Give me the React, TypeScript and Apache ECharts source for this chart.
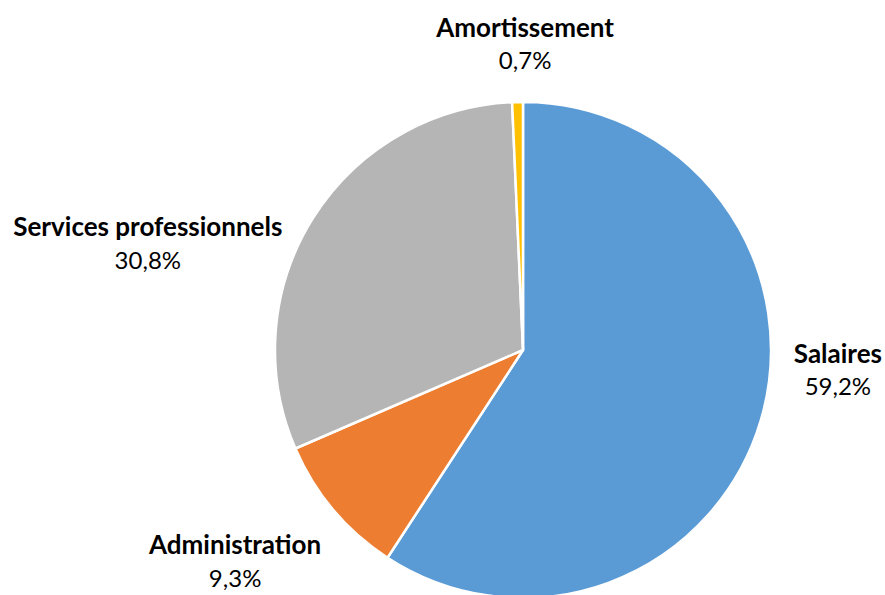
import React, { useEffect, useRef } from "react";
import * as echarts from "echarts";

const categories = ["Salaires", "Administration", "Services professionnels", "Amortissement"];
const values = [59.2, 9.3, 30.8, 0.7];
const colors = ["#5B9BD5", "#ED7D31", "#B5B5B5", "#FFC000"];

const fmt = (v: number) => v.toFixed(1).replace(".", ",") + "%";

// label nudges (Excel "best fit" placement)
const labelShift: [number, number][] = [
  [53, -57],
  [-78, 38],
  [-143, 35],
  [13, -39],
];

export default function App() {
  const ref = useRef<HTMLDivElement>(null);
  useEffect(() => {
    document.body.style.margin = "0";
    const chart = echarts.init(ref.current!, undefined, { renderer: "svg" });
    chart.setOption({
      animation: false,
      backgroundColor: "#ffffff",
      series: [
        {
          type: "pie",
          center: [523, 350],
          radius: 248,
          startAngle: 90,
          clockwise: true,
          avoidLabelOverlap: false,
          itemStyle: { borderColor: "#ffffff", borderWidth: 2.5 },
          data: categories.map((c, i) => ({
            name: c,
            value: values[i],
            itemStyle: { color: colors[i] },
          })),
          label: {
            show: true,
            position: "outside",
            formatter: (p: any) => `{b|${p.name}}\n{v|${fmt(p.value)}}`,
            align: "center",
            rich: {
              b: { fontFamily: "Lato", fontWeight: "bold", fontSize: 26, color: "#000", lineHeight: 33, align: "center" },
              v: { fontFamily: "Lato", fontSize: 24, color: "#000", lineHeight: 33, align: "center" },
            },
          },
          labelLine: { show: false, length: 20, length2: 0 },
          labelLayout: (p: any) => ({
            align: "center",
            dx: labelShift[p.dataIndex][0],
            dy: labelShift[p.dataIndex][1],
          }),
        },
      ],
    });
    return () => chart.dispose();
  }, []);
  return <div ref={ref} style={{ width: 885, height: 595 }} />;
}
